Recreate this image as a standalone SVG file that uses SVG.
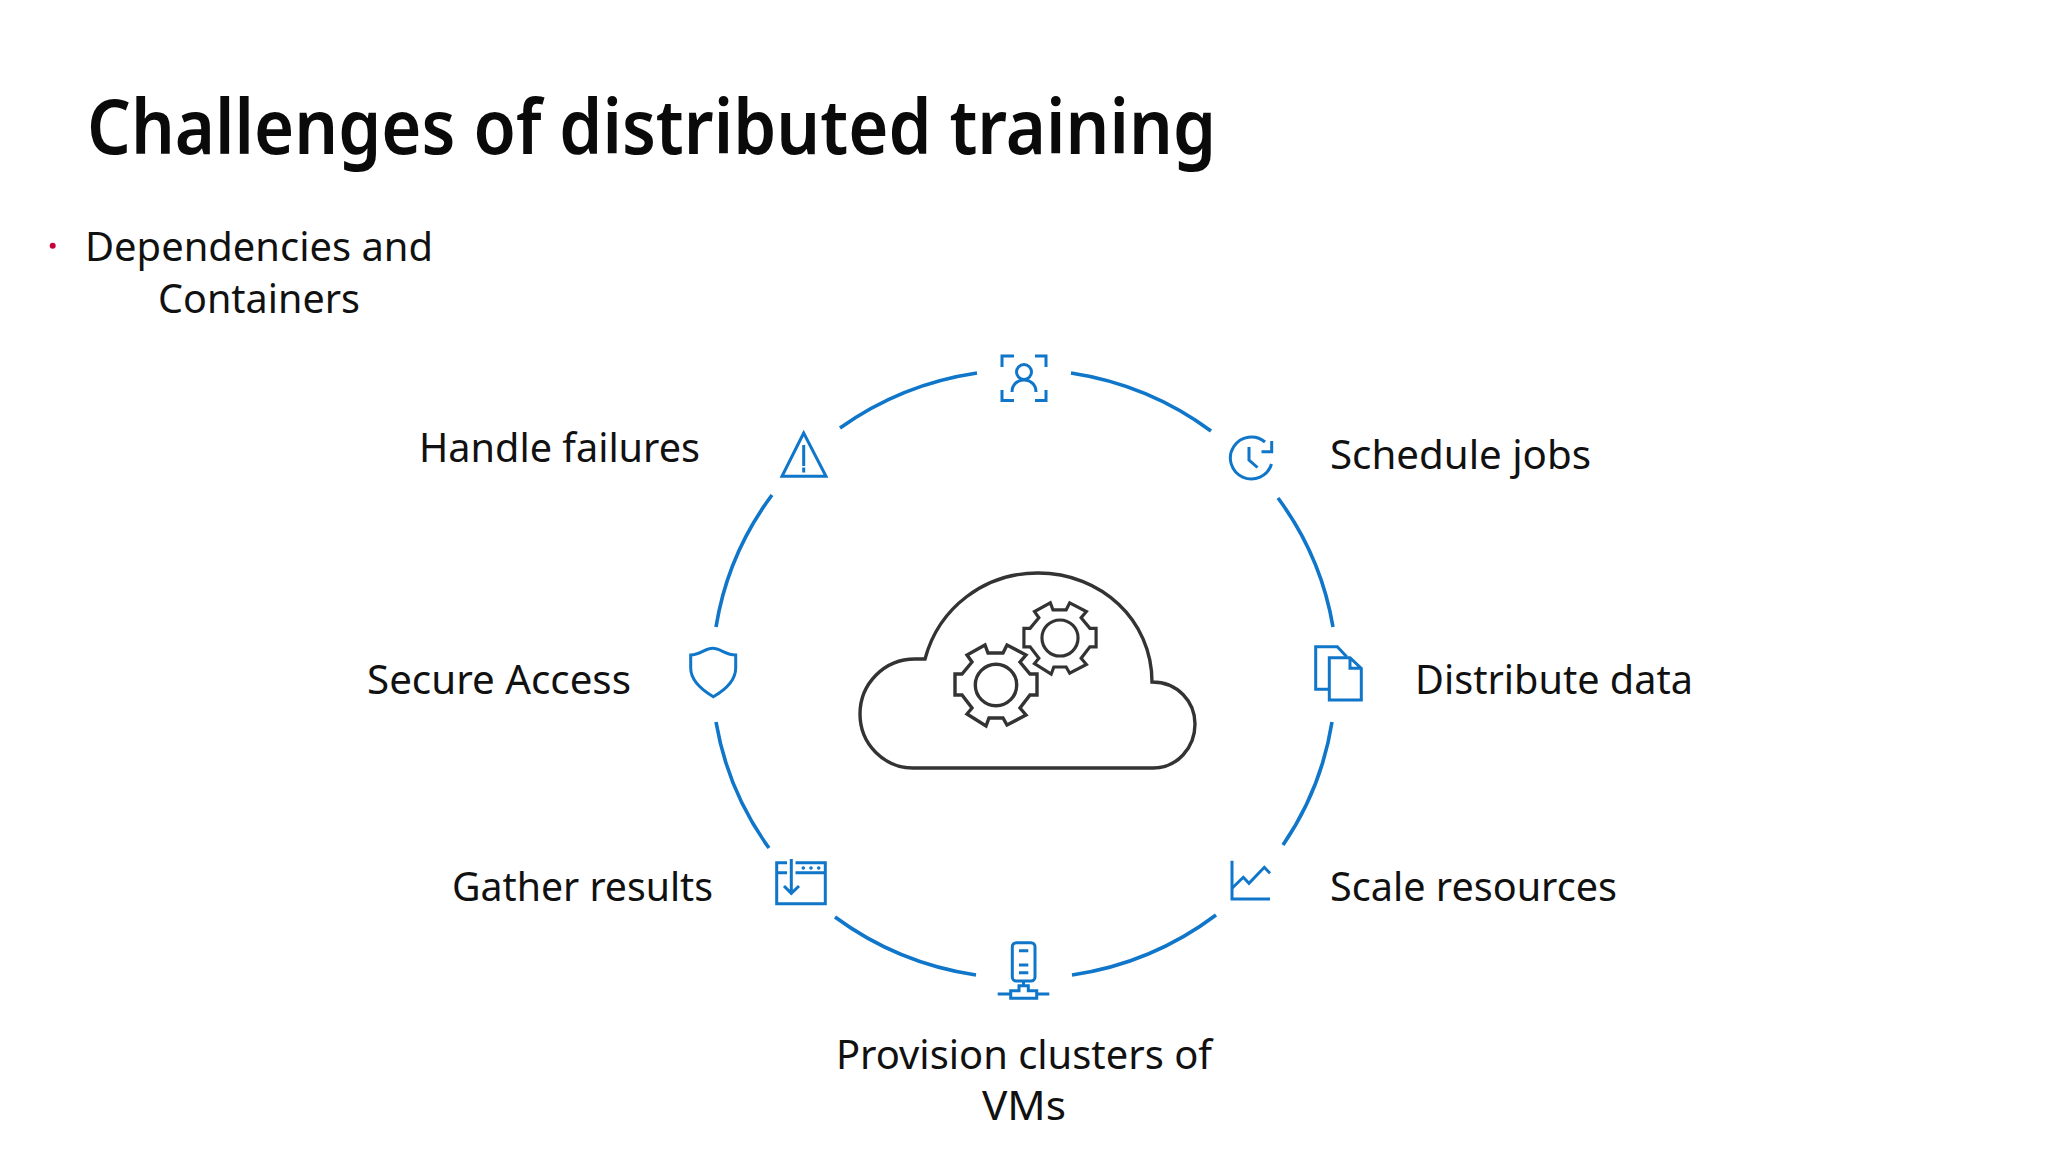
<svg xmlns="http://www.w3.org/2000/svg" width="2048" height="1152" viewBox="0 0 2048 1152">
<style>
text{font-family:"Noto Sans","Open Sans","Liberation Sans",sans-serif;fill:#111;font-size:40px}
.title{font-size:76px;font-weight:600;fill:#0a0a0a}
.ic{fill:none;stroke:#0F76C9;stroke-width:3;stroke-linejoin:miter}
.arc{fill:none;stroke:#0F76C9;stroke-width:3.6}
.dk{fill:none;stroke:#333;stroke-width:3.4;stroke-linejoin:miter}
.dk2{fill:none;stroke:#333;stroke-width:3.6;stroke-linejoin:miter}
</style>
<rect width="2048" height="1152" fill="#fff"/>
<text class="title" x="87" y="154" textLength="1129" lengthAdjust="spacingAndGlyphs">Challenges of distributed training</text>
<g id="bullet">
<circle cx="52.700" cy="245.700" r="3" fill="#C8003C"/>
<text x="85" y="261" textLength="348" lengthAdjust="spacingAndGlyphs">Dependencies and</text>
<text x="158" y="312.500" textLength="202" lengthAdjust="spacingAndGlyphs">Containers</text>
</g>
<g id="connectors">
<path class="arc" d="M840 428A312 305 0 0 1 977 373"/>
<path class="arc" d="M1071 373A312 305 0 0 1 1211 431"/>
<path class="arc" d="M1278 498A312 305 0 0 1 1333 627"/>
<path class="arc" d="M1332 722A312 305 0 0 1 1283 845"/>
<path class="arc" d="M1216 915A312 305 0 0 1 1072 975"/>
<path class="arc" d="M976 975A312 305 0 0 1 835 917"/>
<path class="arc" d="M769 848A312 305 0 0 1 716 722"/>
<path class="arc" d="M716 627A312 305 0 0 1 772 495"/>
</g>
<g id="cloud">
<path class="dk" d="M925 659C939 607 985 573 1038 573C1101 573 1152 620 1152 682C1178 682 1195 702 1195 724C1195 748 1177 768 1153 768H913C884 768 860 744 860 714C860 684 884 659 915 659Z"/>
<g transform="translate(996 685)"><path class="dk" d="M41-11V10H34L24 23L30 30L11 40L7 33H-7L-10 41L-29 29L-24 23L-34 10H-41V-11H-34L-24-23L-29-30L-11-40L-8-32H7L11-40L30-30L24-23L34-11Z"/><circle class="dk" r="20.700"/></g>
<g transform="translate(1060 638) scale(.88)"><path class="dk2" d="M41-11V10H34L24 23L30 30L11 40L7 33H-7L-10 41L-29 29L-24 23L-34 10H-41V-11H-34L-24-23L-29-30L-11-40L-8-32H7L11-40L30-30L24-23L34-11Z"/><circle class="dk2" r="20.500"/></g>
</g>
<g id="node-top">
<path class="ic" d="M1002 367V356H1014M1035 356H1046V367M1002 390V400.500H1014M1035 400.500H1046V390"/>
<circle class="ic" cx="1024" cy="372" r="7.500"/>
<path class="ic" d="M1012 392C1012 385 1017 380 1024 380C1031 380 1036 385 1036 392"/>
</g>
<g id="node-schedule">
<path class="ic" d="M1271.500 464A21 21 0 1 1 1265 442"/>
<path class="ic" d="M1271.700 441V451.700H1261.500"/>
<path class="ic" d="M1249 447V460L1257.500 467.500"/>
<text x="1330" y="469" textLength="261" lengthAdjust="spacingAndGlyphs">Schedule jobs</text>
</g>
<g id="node-distribute">
<path class="ic" d="M1329.300 689.300H1315.700V646.700H1337.300L1346.700 656.700"/>
<path class="ic" d="M1329.300 657.700H1350L1361.300 668.300V700H1329.300ZM1350 657.700V668.300H1361.300"/>
<text x="1415" y="694" textLength="278" lengthAdjust="spacingAndGlyphs">Distribute data</text>
</g>
<g id="node-scale">
<path class="ic" d="M1232 860.700V899H1270"/>
<path class="ic" d="M1232 888.300L1243.300 877.300L1249 883.300L1264.300 867.300L1270 873.300"/>
<text x="1330" y="901" textLength="287" lengthAdjust="spacingAndGlyphs">Scale resources</text>
</g>
<g id="node-provision">
<rect class="ic" x="1012.300" y="942.700" width="22.700" height="38.300" rx="4"/>
<path class="ic" d="M1019 950.700H1028.300M1019 965H1028.300M1019 972.700H1028.300M1023.500 981V985.700"/>
<path class="ic" d="M1010.700 998.300H1036.700V990.700H1028.300V985.700H1019V990.700H1010.700ZM997.700 994H1010.700M1036.700 994H1049.300"/>
<text x="836" y="1069" textLength="376" lengthAdjust="spacingAndGlyphs">Provision clusters of</text>
<text x="982" y="1120" textLength="84" lengthAdjust="spacingAndGlyphs">VMs</text>
</g>
<g id="node-gather">
<path class="ic" d="M787 862.700H776.700V903.700H825.300V862.700H795.500M776.700 872.700H787M795.500 872.700H825.300"/>
<path class="ic" d="M791.300 859V893M784 886L791.300 893.300L799 886"/>
<circle cx="803.300" cy="868" r="1.800" fill="#0F76C9"/><circle cx="811" cy="868" r="1.800" fill="#0F76C9"/><circle cx="818.700" cy="868" r="1.800" fill="#0F76C9"/>
<text x="452" y="901" textLength="261" lengthAdjust="spacingAndGlyphs">Gather results</text>
</g>
<g id="node-secure">
<path class="ic" d="M690.700 655C700 655 705 648.300 712.700 648.300C720 648.300 726 655 735.700 655V668C735.700 680 725 690 713.300 696.700C702 690 690.700 680 690.700 668Z"/>
<text x="367" y="694" textLength="264" lengthAdjust="spacingAndGlyphs">Secure Access</text>
</g>
<g id="node-handle">
<path class="ic" d="M803.700 433L782 476.300H826Z"/>
<path class="ic" d="M803.700 445V466M803.700 467.500V472.500"/>
<text x="419" y="462" textLength="281" lengthAdjust="spacingAndGlyphs">Handle failures</text>
</g>
</svg>
